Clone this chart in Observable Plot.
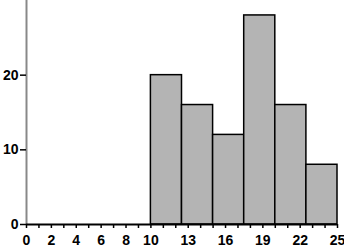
<!DOCTYPE html>
<html>
<head>
<meta charset="utf-8">
<script src="https://cdn.jsdelivr.net/npm/d3@7"></script>
<script src="https://cdn.jsdelivr.net/npm/@observablehq/plot@0.6"></script>
<style>
  html, body { margin: 0; padding: 0; background: #fff; }
</style>
</head>
<body>
<div id="chart"></div>
<script>
const binEdges = [10, 12.5, 15, 17.5, 20, 22.5, 25];
const counts = [20, 16, 12, 28, 16, 8];
const xTickLabels = [0, 2, 4, 6, 8, 10, 13, 16, 19, 22, 25];
const xMinorTicks = d3.range(0, 26, 1);
const yTicks = [0, 10, 20];

const bins = counts.map((c, i) => ({x1: binEdges[i], x2: binEdges[i + 1], count: c}));

const chart = Plot.plot({
  width: 344,
  height: 247,
  marginLeft: 26,
  marginRight: 7,
  marginTop: 0,
  marginBottom: 23,
  x: {domain: [0, 25], label: null},
  y: {domain: [0, 30], label: null},
  style: {fontFamily: "'Liberation Sans', Arial, sans-serif", fontSize: "14px", fontWeight: "bold", color: "black", background: "white"},
  marks: [
    Plot.rectY(bins, {x1: "x1", x2: "x2", y: "count", fill: "#b4b4b4", stroke: "black", strokeWidth: 1.5}),
    Plot.ruleX([0], {stroke: "#888", strokeWidth: 2}),
    Plot.axisX({ticks: xMinorTicks, tickSize: 4, tickFormat: () => "", strokeWidth: 1.5, label: null}),
    Plot.axisX({ticks: xTickLabels, tickSize: 0, tickPadding: 11, tickFormat: d => String(d), label: null}),
    Plot.ruleY([0], {stroke: "black", strokeWidth: 2}),
    Plot.axisY({ticks: yTicks, tickSize: 6, tickPadding: 2, strokeWidth: 1.5, tickFormat: d => String(d), label: null})
  ]
});
document.getElementById("chart").appendChild(chart);
</script>
</body>
</html>
